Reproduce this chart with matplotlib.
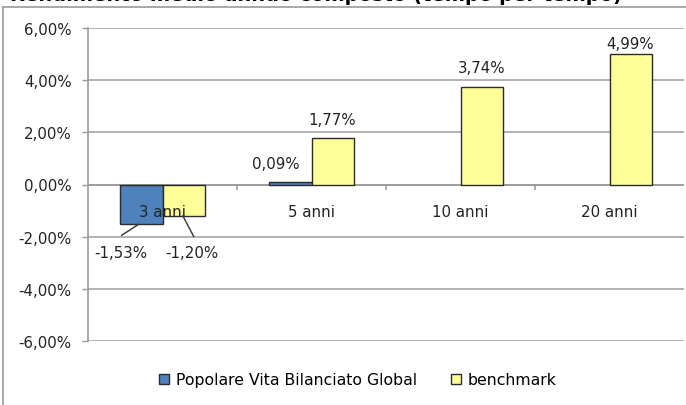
import matplotlib
matplotlib.use("Agg")
import matplotlib.pyplot as plt
import numpy as np
from matplotlib.lines import Line2D
from matplotlib.patches import Rectangle

# Data
categories = ["3 anni", "5 anni", "10 anni", "20 anni"]
fund_name = "Popolare Vita Bilanciato Global"
bench_name = "benchmark"
fund_values = [-1.53, 0.09, np.nan, np.nan]
bench_values = [-1.20, 1.77, 3.74, 4.99]
yticks = [-6, -4, -2, 0, 2, 4, 6]
title = "Rendimento medio annuo composto (tempo per tempo)"

def fmt(v):
    return f"{v:.2f}%".replace(".", ",")

plt.rcParams["font.family"] = ["DejaVu Sans"]
FS = 10.8
fig = plt.figure(figsize=(6.86, 4.06), dpi=100)

# Chart frame and title (runs off the top edge)
fig.add_artist(Line2D([3 / 686, 3 / 686], [0, 1 - 7.5 / 406], transform=fig.transFigure,
                      color="#9a9a9a", lw=1.2))
fig.add_artist(Line2D([3 / 686, 1], [1 - 7.5 / 406, 1 - 7.5 / 406], transform=fig.transFigure,
                      color="#9a9a9a", lw=1.2))
fig.text(10 / 686, 1 - 1.0 / 406, title, ha="left", va="baseline", fontsize=14,
         fontweight="bold", color="black")

ax = fig.add_axes([88 / 686, 1 - 342 / 406, (684 - 88) / 686, (342 - 29) / 406])

x = np.arange(len(categories))
w = 0.283
fund_color = "#4f81bd"
bench_color = "#ffff99"
edge = "#2b2b2b"

ax.bar(x - w / 2, fund_values, w, color=fund_color, edgecolor=edge, lw=1.0, zorder=3,
       label=fund_name)
ax.bar(x + w / 2, bench_values, w, color=bench_color, edgecolor=edge, lw=1.0, zorder=3,
       label=bench_name)

ax.set_xlim(-0.5, len(categories) - 0.5)
ax.set_ylim(-6, 6)
ax.set_yticks(yticks)
ax.set_yticklabels([fmt(t) for t in yticks], fontsize=FS, color="#222222")
ax.tick_params(axis="y", length=4.3, color="#9a9a9a", width=1, pad=7.5)
ax.yaxis.grid(True, color="#a6a6a6", lw=1.2, zorder=0)
ax.set_axisbelow(True)

for s in ["top", "right", "bottom"]:
    ax.spines[s].set_visible(False)
ax.spines["left"].set_color("#9a9a9a")
ax.spines["left"].set_linewidth(1.2)

# Category axis drawn at zero
ax.set_xticks([])
ax.axhline(0, color="#9a9a9a", lw=1.2, zorder=2)
for b in np.arange(0.5, len(categories) - 0.5, 1.0):
    ax.plot([b, b], [0, -0.17], color="#9a9a9a", lw=1.2, zorder=2, clip_on=False)
for i, c in enumerate(categories):
    ax.annotate(c, (i, 0), xytext=(0, -27), textcoords="offset pixels", ha="center",
                va="center", fontsize=FS, color="#222222", zorder=5)

# Value labels
lab_kw = dict(textcoords="offset pixels", ha="center", va="center", fontsize=FS,
              color="#222222", zorder=6)
# positive labels
ax.annotate(fmt(fund_values[1]), (1 - w / 2, fund_values[1]), xytext=(-15, 19), **lab_kw)
for i, v in enumerate(bench_values):
    if v > 0:
        dy = 11 if v > 4.5 else 19
        ax.annotate(fmt(v), (i + w / 2, v), xytext=(0, dy), **lab_kw)

# negative labels, moved below the bars with leader lines
leader_kw = dict(arrowstyle="-", color="#333333", lw=1.0, shrinkA=0, shrinkB=0)
p1 = (0 - w / 2 - 0.02, fund_values[0])
ax.annotate(fmt(fund_values[0]), p1, xytext=(-18, -28), **lab_kw)
ax.annotate("", p1, xytext=(-17, -11), textcoords="offset pixels", arrowprops=leader_kw,
            zorder=6)
p2 = (0 + w / 2 - 0.005, bench_values[0])
ax.annotate(fmt(bench_values[0]), p2, xytext=(9, -37), **lab_kw)
ax.annotate("", p2, xytext=(11, -21), textcoords="offset pixels", arrowprops=leader_kw,
            zorder=6)

# Legend
handles = [Rectangle((0, 0), 1, 1, facecolor=fund_color, edgecolor=edge, lw=1.0),
           Rectangle((0, 0), 1, 1, facecolor=bench_color, edgecolor=edge, lw=1.0)]
fig.legend(handles, [fund_name, bench_name], loc="center", bbox_to_anchor=(358 / 686, 1 - 381 / 406),
           ncol=2, frameon=False, fontsize=11.3, handlelength=0.64, handleheight=0.64,
           handletextpad=0.4, columnspacing=2.2)

fig.savefig("out.png", dpi=100)
